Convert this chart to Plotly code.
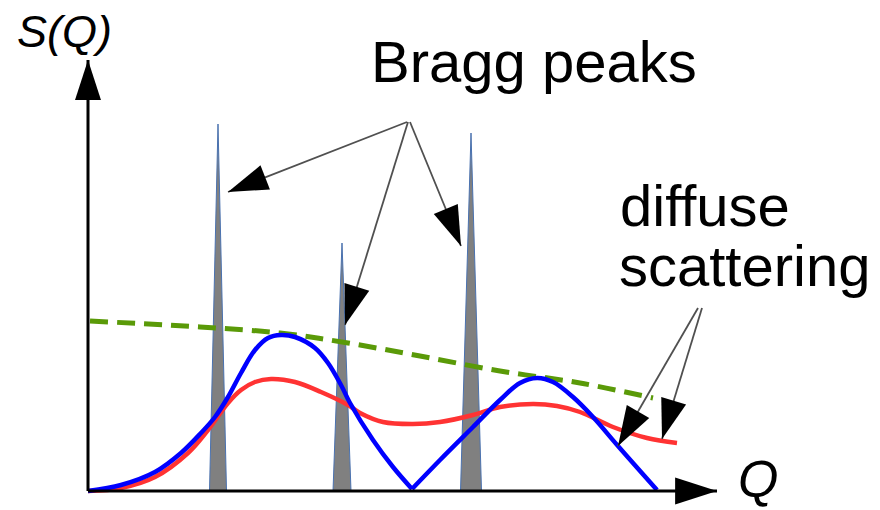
import plotly.graph_objects as go

# ---------------- data (arbitrary units: Q horizontal, S(Q) vertical) ----------------
# blue curve (split at its sharp minimum)
blue_q1 = [0.0, 0.66, 1.34, 1.86, 2.26, 2.54, 2.80, 3.06, 3.34, 3.60, 3.86, 4.14, 4.54, 4.80, 5.06, 5.24, 5.70, 6.10, 6.48]
blue_s1 = [0.0, 0.12, 0.38, 0.76, 1.16, 1.48, 1.88, 2.36, 2.82, 3.06, 3.12, 3.08, 2.86, 2.56, 2.12, 1.76, 1.02, 0.48, 0.04]
blue_q2 = [6.48, 7.04, 7.70, 8.24, 8.64, 8.98, 9.30, 9.70, 10.10, 10.60, 11.38]
blue_s2 = [0.04, 0.62, 1.28, 1.82, 2.16, 2.26, 2.18, 1.88, 1.48, 0.90, 0.02]

# red curve
red_q = [0.0, 0.66, 1.34, 2.00, 2.40, 2.80, 3.06, 3.34, 3.66, 4.14, 4.66, 5.20, 5.44, 5.90, 6.50,
         7.04, 7.70, 8.24, 8.90, 9.38, 9.84, 10.50, 11.18, 11.78]
red_s = [0.0, 0.06, 0.28, 0.76, 1.22, 1.76, 2.02, 2.18, 2.24, 2.18, 1.98, 1.72, 1.56, 1.38, 1.34,
         1.38, 1.52, 1.68, 1.74, 1.70, 1.58, 1.28, 1.06, 0.96]

# green dashed envelope
green_q = [0.04, 2.24, 3.84, 5.20, 6.64, 8.24, 9.84, 11.30]
green_s = [3.40, 3.28, 3.16, 2.96, 2.70, 2.40, 2.16, 1.86]

# Bragg peaks
peak_q = [2.60, 5.08, 7.66]
peak_h = [7.34, 4.96, 7.16]
peak_halfwidth = [0.17, 0.18, 0.21]

# annotation arrows: (start, tip)
bragg_src = [(6.38, 7.38), (6.40, 7.38), (6.44, 7.38)]
bragg_tip = [(2.80, 5.98), (5.14, 3.32), (7.46, 4.90)]
diff_src = [(12.20, 3.66), (12.28, 3.66)]
diff_tip = [(10.60, 0.90), (11.48, 1.04)]

# axes extents
q_axis_end = 12.58
s_axis_end = 8.62

FONT = "Liberation Sans, Arial, sans-serif"

fig = go.Figure()

# Bragg peaks (drawn first, under the curves)
for c, h, w in zip(peak_q, peak_h, peak_halfwidth):
    fig.add_trace(go.Scatter(
        x=[c - w, c, c + w, c - w], y=[0, h, 0, 0],
        mode="lines", fill="toself", fillcolor="#808080",
        line=dict(color="#4a72b0", width=1), hoverinfo="skip"))

# green dashed
fig.add_trace(go.Scatter(x=green_q, y=green_s, mode="lines",
                         line=dict(color="#5a9a08", width=5, dash="18px,9px", shape="spline"),
                         hoverinfo="skip"))
# red
fig.add_trace(go.Scatter(x=red_q, y=red_s, mode="lines",
                         line=dict(color="#ff3333", width=4.5, shape="spline"), hoverinfo="skip"))
# blue
for qq, ss in ((blue_q1, blue_s1), (blue_q2, blue_s2)):
    fig.add_trace(go.Scatter(x=qq, y=ss, mode="lines",
                             line=dict(color="#0000ff", width=4.5, shape="spline"), hoverinfo="skip"))


def arrow(p0, p1, color, width, size):
    fig.add_trace(go.Scatter(
        x=[p0[0], p1[0]], y=[p0[1], p1[1]], mode="lines",
        line=dict(color=color, width=width), hoverinfo="skip"))
    fig.add_trace(go.Scatter(
        x=[p0[0], p1[0]], y=[p0[1], p1[1]], mode="markers",
        marker=dict(symbol="arrow", size=[0, size], angleref="previous",
                    color="#000000", opacity=1, line=dict(width=0)),
        hoverinfo="skip"))


# axes
arrow((0, 0), (q_axis_end, 0), "black", 3, 44)
arrow((0, 0), (0, s_axis_end), "black", 3, 42)

# annotation arrows
for s, t in zip(bragg_src, bragg_tip):
    arrow(s, t, "#505050", 1.8, 42)
for s, t in zip(diff_src, diff_tip):
    arrow(s, t, "#505050", 1.8, 42)

# texts
def label(x, y, text, size, xanchor="center"):
    fig.add_annotation(x=x, y=y, text=text, showarrow=False, xanchor=xanchor, yanchor="middle",
                       font=dict(family=FONT, size=size, color="black"))

label(-0.48, 9.2, "<i>S(Q)</i>", 45)
label(13.4, 0.24, "<i>Q</i>", 52)
label(8.92, 8.6, "Bragg peaks", 58)
label(10.6, 5.72, "diffuse", 58, "left")
label(10.58, 4.52, "scattering", 58, "left")

fig.update_layout(
    width=880, height=510, margin=dict(l=0, r=0, t=0, b=0),
    paper_bgcolor="white", plot_bgcolor="white", showlegend=False,
    xaxis=dict(visible=False, range=[-1.76, 15.84], fixedrange=True),
    yaxis=dict(visible=False, range=[-0.38, 9.82], fixedrange=True),
)

fig.write_html("out.html", config={"displayModeBar": False},
               post_script="document.body.style.margin='0';")
